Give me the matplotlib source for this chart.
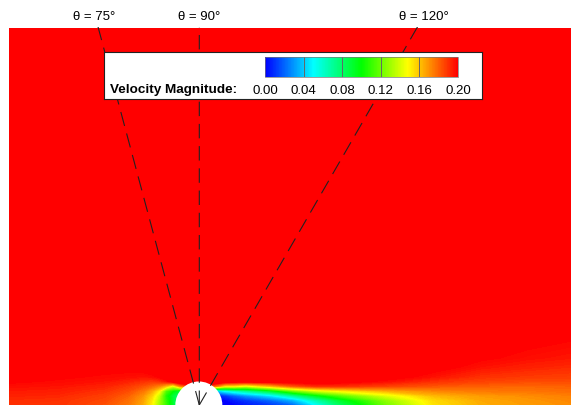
import numpy as np
import matplotlib
matplotlib.use("Agg")
import matplotlib.pyplot as plt
from matplotlib.colors import LinearSegmentedColormap, Normalize
from matplotlib.cm import ScalarMappable
from matplotlib.patches import Circle

plt.rcParams["font.family"] = ["Liberation Sans", "DejaVu Sans"]

# probe line angles (deg, measured from the upstream stagnation point)
thetas = [75, 90, 120]
radius = 0.5

# colour bar
cbar_ticks = [0.00, 0.04, 0.08, 0.12, 0.16, 0.20]
cbar_labels = ["0.00", "0.04", "0.08", "0.12", "0.16", "0.20"]

# velocity magnitude on a coarse grid (x along flow, y up)
xs = [-4.05, -3.0, -2.0, -1.5, -1.2, -1.0, -0.85, -0.7, -0.55, -0.4, 0.0, 0.4,
      0.55, 0.75, 1.0, 1.5, 2.0, 2.5, 3.0, 4.0, 5.0, 6.0, 7.0, 8.0]
ys = [0.0, 0.1, 0.2, 0.3, 0.4, 0.5, 0.6, 0.8, 1.0, 1.5, 2.5, 8.0]
vel = [
    [0.190, 0.190, 0.183, 0.175, 0.165, 0.150, 0.130, 0.110, 0.090, 0.070, 0.030, 0.000,
     0.000, 0.000, 0.005, 0.010, 0.020, 0.050, 0.080, 0.122, 0.153, 0.164, 0.168, 0.171],
    [0.191, 0.190, 0.185, 0.177, 0.167, 0.152, 0.132, 0.108, 0.090, 0.070, 0.030, 0.000,
     0.000, 0.005, 0.010, 0.020, 0.035, 0.065, 0.090, 0.127, 0.155, 0.165, 0.169, 0.172],
    [0.193, 0.192, 0.187, 0.180, 0.170, 0.157, 0.138, 0.105, 0.088, 0.075, 0.040, 0.005,
     0.010, 0.020, 0.030, 0.045, 0.070, 0.095, 0.115, 0.142, 0.162, 0.168, 0.171, 0.174],
    [0.195, 0.194, 0.190, 0.184, 0.176, 0.165, 0.150, 0.115, 0.100, 0.090, 0.080, 0.040,
     0.050, 0.060, 0.070, 0.090, 0.120, 0.140, 0.150, 0.164, 0.172, 0.175, 0.176, 0.178],
    [0.197, 0.196, 0.193, 0.188, 0.183, 0.178, 0.172, 0.160, 0.140, 0.170, 0.200, 0.170,
     0.150, 0.150, 0.140, 0.160, 0.180, 0.190, 0.190, 0.186, 0.182, 0.180, 0.179, 0.180],
    [0.200, 0.198, 0.196, 0.193, 0.190, 0.188, 0.190, 0.195, 0.205, 0.215, 0.230, 0.215,
     0.210, 0.205, 0.205, 0.205, 0.205, 0.205, 0.203, 0.197, 0.190, 0.186, 0.184, 0.184],
    [0.201, 0.200, 0.198, 0.197, 0.196, 0.197, 0.200, 0.205, 0.212, 0.220, 0.230, 0.220,
     0.215, 0.212, 0.210, 0.210, 0.210, 0.210, 0.208, 0.203, 0.196, 0.190, 0.188, 0.187],
    [0.202, 0.202, 0.201, 0.201, 0.202, 0.205, 0.208, 0.212, 0.216, 0.220, 0.225, 0.220,
     0.217, 0.215, 0.214, 0.214, 0.214, 0.213, 0.212, 0.208, 0.202, 0.196, 0.193, 0.191],
    [0.203, 0.203, 0.203, 0.204, 0.205, 0.207, 0.209, 0.211, 0.214, 0.217, 0.220, 0.217,
     0.215, 0.214, 0.213, 0.213, 0.213, 0.213, 0.212, 0.209, 0.205, 0.200, 0.197, 0.195],
    [0.204, 0.204, 0.205, 0.206, 0.207, 0.208, 0.209, 0.210, 0.211, 0.212, 0.214, 0.212,
     0.211, 0.211, 0.211, 0.211, 0.211, 0.211, 0.211, 0.210, 0.207, 0.204, 0.202, 0.200],
    [0.210] * 24,
    [0.210] * 24,
]

cmap = LinearSegmentedColormap.from_list(
    "tec", [(0.0, "#0000ff"), (0.25, "#00ffff"), (0.5, "#00ff00"),
            (0.74, "#ffff00"), (1.0, "#ff0000")])
cmap.set_over("#ff0000")
cmap.set_under("#0000ff")
norm = Normalize(0.0, 0.2)

W, H = 571, 406
fig = plt.figure(figsize=(W / 100, H / 100), dpi=100)
fig.patch.set_facecolor("white")

ax = fig.add_axes([9 / W, 0, 1 - 9 / W, (H - 28) / H])
ax.contourf(xs, ys, np.array(vel), levels=np.linspace(0, 0.2, 161),
            cmap=cmap, norm=norm, extend="both")
ax.add_patch(Circle((0, 0), radius, facecolor="white", edgecolor="none", zorder=3))
ax.set_xlim(-4.04, 7.92)
ax.set_ylim(0, 8.04)
ax.axis("off")

# dashed probe lines from the cylinder centre
label_y = 8.28
for th in thetas:
    t = np.radians(th)
    dx, dy = -np.cos(t), np.sin(t)
    if th == 90:
        dx = 0.0
    ax.plot([0.01, 0.01 + 12 * dx], [0, 12 * dy], color="#222222", lw=0.8,
            dashes=(13, 7), snap=False, zorder=4)
    ax.text(label_y * dx / dy, label_y, f"\u03b8 = {th}\u00b0", ha="center",
            va="center", fontsize=9.5, clip_on=False)

# legend box
box = fig.add_axes([104 / W, 1 - 100 / H, 378 / W, 47 / H])
box.set_xticks([])
box.set_yticks([])
box.set_facecolor("white")
for sp in box.spines.values():
    sp.set_linewidth(0.8)
    sp.set_color("#222222")

cax = fig.add_axes([265 / W, 1 - 78 / H, 193 / W, 20 / H])
cb = fig.colorbar(ScalarMappable(norm=norm, cmap=cmap), cax=cax,
                  orientation="horizontal")
cb.set_ticks(cbar_ticks)
cb.set_ticklabels(cbar_labels)
cax.tick_params(length=0, pad=5, labelsize=9.5)
cb.outline.set_linewidth(0.5)
cb.outline.set_edgecolor("#777777")
for t in cbar_ticks[1:-1]:
    cax.axvline(t, color="#666666", lw=0.7)

fig.text(110 / W, 1 - 90 / H, "Velocity Magnitude:", fontsize=9.7,
         fontweight="bold", va="center", ha="left")

fig.savefig("out.png", dpi=100)
